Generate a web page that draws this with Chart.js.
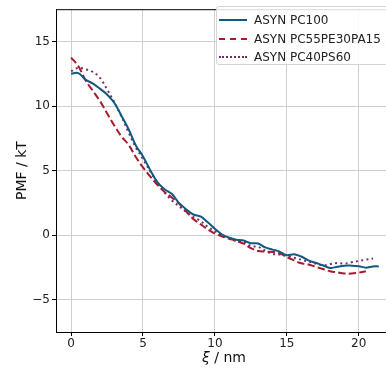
<!DOCTYPE html>
<html lang="en">
<head>
  <meta charset="UTF-8">
  <title>PMF</title>
  <script src="https://cdn.jsdelivr.net/npm/chart.js@4.4.1/dist/chart.umd.min.js"></script>
  <style>
    html, body { margin: 0; padding: 0; background: #fff; overflow: hidden; }
    .wrap { position: relative; width: 386px; height: 374px; }
    .legend { position: absolute; left: 216px; top: 6px; width: 190px; height: 59px;
      border: 1px solid #d4d4d4; border-radius: 3px; background: rgba(255,255,255,0.85);
      font-family: "DejaVu Sans", sans-serif; font-size: 12px; color: #222; box-sizing: border-box; }
    .legend .row { position: absolute; left: 0; height: 14px; line-height: 14px; white-space: nowrap; }
    .legend .sw { position: absolute; left: 2px; top: 6px; width: 28px; height: 0; }
    .legend .lbl { position: absolute; left: 37px; top: 0; }
  </style>
</head>
<body>
<div class="wrap">
  <canvas id="pmf" width="386" height="374"></canvas>
  <div class="legend" id="legend"></div>
</div>
<script>
// reaction coordinate (nm)
var xi = [0, 0.5, 1, 1.5, 2, 2.5, 3, 3.5, 4, 4.5, 5, 5.5, 6, 6.5, 7, 7.5, 8, 8.5, 9, 9.5,
  10, 10.5, 11, 11.5, 12, 12.5, 13, 13.5, 14, 14.5, 15, 15.5, 16, 16.5, 17, 17.5, 18, 18.5, 19, 19.5,
  20, 20.5, 21, 21.4];

var pc100 = [12.5, 12.55, 12.05, 11.75, 11.35, 10.9, 10.25, 9.25, 8.2, 6.95, 6.1, 5.05, 4.1, 3.55, 3.2, 2.5, 2.0, 1.6, 1.45, 1.0,
  0.5, 0.05, -0.2, -0.35, -0.42, -0.62, -0.65, -0.95, -1.12, -1.27, -1.55, -1.48, -1.65, -1.95, -2.14, -2.33, -2.55, -2.45, -2.36, -2.36,
  -2.4, -2.52, -2.42, -2.42];

var pc55pe30pa15 = [13.75, 13.1, 12.0, 11.2, 10.4, 9.45, 8.5, 7.65, 7.0, 6.05, 5.25, 4.55, 3.9, 3.35, 2.92, 2.45, 1.85, 1.25, 0.85, 0.45,
  0.12, -0.1, -0.28, -0.45, -0.66, -1.0, -1.22, -1.27, -1.3, -1.4, -1.7, -1.95, -2.18, -2.27, -2.45, -2.62, -2.79, -2.88, -2.97, -2.97,
  -2.9, -2.8, null, null];

var pc40ps60 = [12.7, 12.95, 12.85, 12.65, 12.2, 11.3, 10.3, 9.2, 7.95, 6.8, 5.9, 4.95, 4.05, 3.3, 2.7, 2.25, 1.8, 1.4, 1.1, 0.65,
  0.3, 0.0, -0.25, -0.45, -0.5, -0.85, -0.9, -1.2, -1.45, -1.5, -1.6, -1.75, -1.9, -2.05, -2.2, -2.35, -2.25, -2.15, -2.2, -2.1,
  -2.0, -1.9, -1.8, null];

var seriesNames = ['ASYN PC100', 'ASYN PC55PE30PA15', 'ASYN PC40PS60'];
var xTicks = [0, 5, 10, 15, 20];
var yTicks = [-5, 0, 5, 10, 15];

var colors = ['#0e5a80', '#a51d2d', '#7a2a6c'];
var dashes = [[], [7.4, 3.2], [2, 3.3]];

function pts(ys) {
  var out = [];
  for (var i = 0; i < xi.length; i++) {
    if (ys[i] !== null) out.push({ x: xi[i], y: ys[i] });
  }
  return out;
}

var allY = [pc100, pc55pe30pa15, pc40ps60];
var datasets = allY.map(function (ys, i) {
  return {
    label: seriesNames[i],
    data: pts(ys),
    borderColor: colors[i],
    borderWidth: 2,
    borderDash: dashes[i],
    borderCapStyle: 'butt',
    pointRadius: 0,
    tension: 0.35,
    fill: false
  };
});

var font = "'DejaVu Sans', sans-serif";

/* top spine + x label with italic xi */
var extras = {
  id: 'extras',
  afterDraw: function (chart) {
    var c = chart.ctx, a = chart.chartArea;
    c.save();
    c.strokeStyle = '#000';
    c.lineWidth = 1;
    c.beginPath();
    c.moveTo(a.left, a.top + 0.5);
    c.lineTo(a.right, a.top + 0.5);
    c.stroke();

    c.fillStyle = '#111';
    c.textBaseline = 'middle';
    var p1 = 'ξ', p2 = ' / nm';
    c.font = "italic 14px " + font;
    var w1 = c.measureText(p1).width;
    c.font = "14px " + font;
    var w2 = c.measureText(p2).width;
    var x0 = 224 - (w1 + w2) / 2, y0 = 358;
    c.font = "italic 14px " + font;
    c.fillText(p1, x0, y0);
    c.font = "14px " + font;
    c.fillText(p2, x0 + w1, y0);
    c.restore();
  }
};

var chart = new Chart(document.getElementById('pmf'), {
  type: 'line',
  data: { datasets: datasets },
  options: {
    responsive: false,
    devicePixelRatio: 1,
    animation: false,
    layout: { padding: { left: 0, right: 0, top: 3, bottom: 0 } },
    plugins: { legend: { display: false }, tooltip: { enabled: false } },
    scales: {
      x: {
        type: 'linear',
        min: -1.05, max: 21.9,
        afterBuildTicks: function (s) { s.ticks = xTicks.map(function (v) { return { value: v }; }); },
        afterFit: function (s) { s.height = 42; },
        grid: { color: '#cfcfcf', lineWidth: 1, tickLength: 4, tickColor: '#000' },
        border: { display: true, color: '#000', width: 1 },
        ticks: { color: '#222', font: { family: font, size: 12 }, padding: 1, maxRotation: 0,
          callback: function (v) { return v < 0 ? '\u2212' + Math.abs(v) : String(v); } }
      },
      y: {
        min: -7.5, max: 17.5,
        afterBuildTicks: function (s) { s.ticks = yTicks.map(function (v) { return { value: v }; }); },
        afterFit: function (s) { s.width = 56; },
        grid: { color: '#cfcfcf', lineWidth: 1, tickLength: 4, tickColor: '#000' },
        border: { display: true, color: '#000', width: 1 },
        title: { display: true, text: 'PMF / kT', color: '#111', font: { family: font, size: 14 },
          padding: { top: 14, bottom: 0 } },
        ticks: { color: '#222', font: { family: font, size: 12 }, padding: 2,
          callback: function (v) { return v < 0 ? '\u2212' + Math.abs(v) : String(v); } }
      }
    }
  },
  plugins: [extras]
});

// legend built from the datasets
var lg = document.getElementById('legend');
datasets.forEach(function (ds, i) {
  var row = document.createElement('div');
  row.className = 'row';
  row.style.top = (6 + i * 18.5) + 'px';
  var style = i === 0 ? 'solid' : (i === 1 ? 'dashed' : 'dotted');
  row.innerHTML = '<span class="sw" style="border-top:2px ' + style + ' ' + ds.borderColor + '"></span>' +
    '<span class="lbl">' + ds.label + '</span>';
  lg.appendChild(row);
});
</script>
</body>
</html>
